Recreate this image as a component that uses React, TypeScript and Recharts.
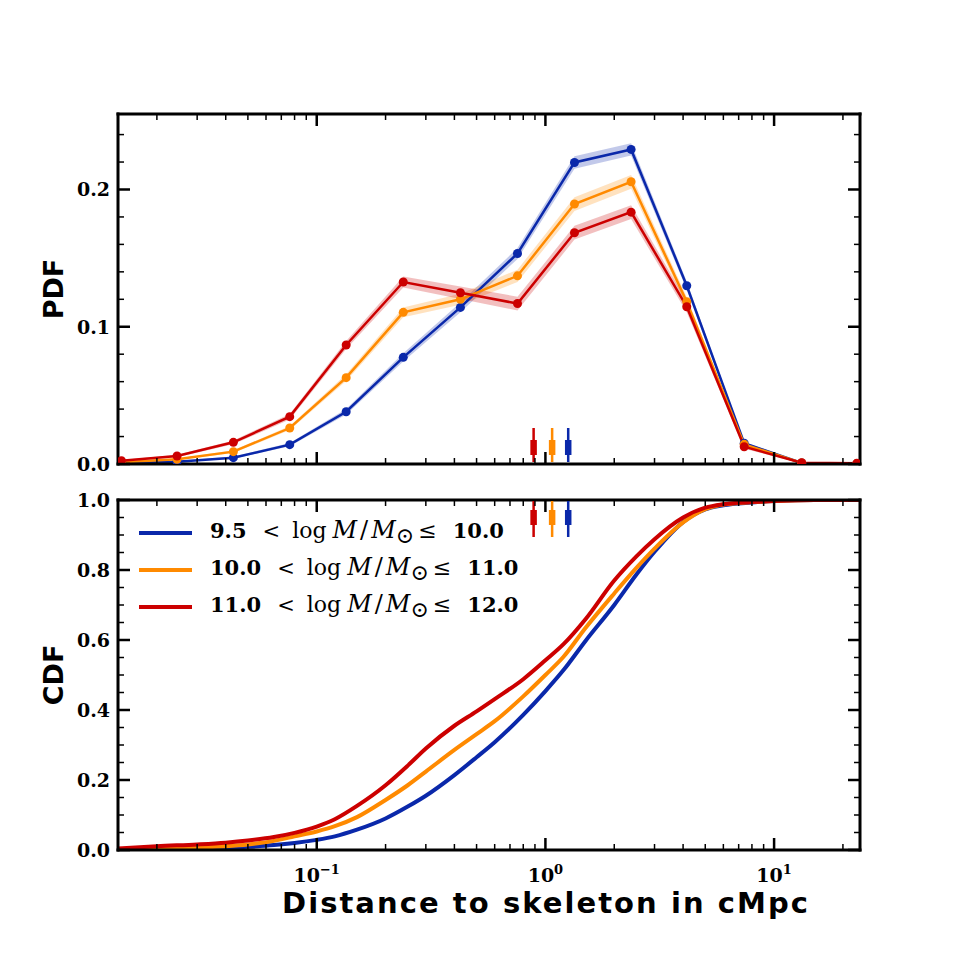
import React from 'react';
import { ComposedChart, Line, Area, XAxis, YAxis, Scatter } from 'recharts';

// ---------- data ----------
const SERIES_NAMES = ['9.5', '10.0', '11.0'];
const SERIES_UPPER = ['10.0', '11.0', '12.0'];

const PDF_X = [0.014, 0.0245, 0.0432, 0.0762, 0.1345, 0.239, 0.425, 0.755, 1.34, 2.37, 4.15, 7.4, 13.2, 23.0];
const PDF_BLUE = [0.0006, 0.0017, 0.0046, 0.0141, 0.0381, 0.0777, 0.1141, 0.1534, 0.2197, 0.2292, 0.1299, 0.0151, 0.0008, 0.0003];
const PDF_ORANGE = [0.0012, 0.0034, 0.009, 0.0262, 0.0629, 0.1105, 0.12, 0.1371, 0.1894, 0.2056, 0.1182, 0.0143, 0.0008, 0.0003];
const PDF_RED = [0.0024, 0.0058, 0.0158, 0.0345, 0.0867, 0.1326, 0.1248, 0.1169, 0.1685, 0.1835, 0.1146, 0.0126, 0.0009, 0.0005];
const ERR_BLUE = [0.0003, 0.0005, 0.0008, 0.0012, 0.002, 0.003, 0.0035, 0.004, 0.0045, 0.0045, 0.003, 0.001, 0.0003, 0.0002];
const ERR_ORANGE = [0.0004, 0.0006, 0.001, 0.0015, 0.0025, 0.0035, 0.004, 0.0045, 0.005, 0.005, 0.0035, 0.0012, 0.0003, 0.0002];
const ERR_RED = [0.0006, 0.0009, 0.0014, 0.002, 0.003, 0.004, 0.0045, 0.005, 0.005, 0.005, 0.004, 0.0015, 0.0004, 0.0002];

const CDF_X = [0.0135, 0.02, 0.03, 0.04, 0.05, 0.065, 0.08, 0.1, 0.12, 0.15, 0.2, 0.25, 0.3, 0.4, 0.5, 0.6, 0.8, 1.0, 1.2, 1.5, 2.0, 2.5, 3, 4, 5, 6, 8, 10, 15, 23.7];
const CDF_BLUE = [0.0005, 0.001, 0.003, 0.006, 0.009, 0.014, 0.02, 0.029, 0.039, 0.058, 0.09, 0.124, 0.155, 0.214, 0.265, 0.308, 0.386, 0.454, 0.514, 0.598, 0.7, 0.787, 0.852, 0.937, 0.973, 0.985, 0.993, 0.997, 1.0, 1.0];
const CDF_ORANGE = [0.001, 0.003, 0.007, 0.011, 0.016, 0.026, 0.039, 0.053, 0.068, 0.094, 0.143, 0.185, 0.224, 0.286, 0.331, 0.368, 0.439, 0.5, 0.552, 0.635, 0.733, 0.806, 0.861, 0.936, 0.974, 0.987, 0.994, 0.997, 1.0, 1.0];
const CDF_RED = [0.004, 0.011, 0.016, 0.021, 0.027, 0.037, 0.049, 0.067, 0.088, 0.126, 0.185, 0.241, 0.29, 0.355, 0.396, 0.431, 0.488, 0.542, 0.588, 0.66, 0.77, 0.839, 0.888, 0.95, 0.978, 0.988, 0.994, 0.997, 1.0, 1.0];

// medians (blue, orange, red)
const MEDIANS = [1.258, 1.07, 0.888];

const X_DOMAIN = [0.01352, 23.75];
const X_TICKS = [0.02, 0.03, 0.04, 0.05, 0.06, 0.07, 0.08, 0.09, 0.1, 0.2, 0.3, 0.4, 0.5, 0.6, 0.7, 0.8, 0.9, 1, 2, 3, 4, 5, 6, 7, 8, 9, 10, 20];
const X_MAJOR = [0.1, 1, 10];
const PDF_Y_TICKS = [0, 0.02, 0.04, 0.06, 0.08, 0.1, 0.12, 0.14, 0.16, 0.18, 0.2, 0.22, 0.24];
const PDF_Y_MAJOR = [0, 0.1, 0.2];
const CDF_Y_TICKS = [0, 0.05, 0.1, 0.15, 0.2, 0.25, 0.3, 0.35, 0.4, 0.45, 0.5, 0.55, 0.6, 0.65, 0.7, 0.75, 0.8, 0.85, 0.9, 0.95, 1.0];
const CDF_Y_MAJOR = [0, 0.2, 0.4, 0.6, 0.8, 1.0];

// ---------- style ----------
const COLORS = ['#0a28aa', '#ff8a00', '#cc0000'];
const SERIF = '"DejaVu Serif", serif';
const SANS = '"DejaVu Sans", sans-serif';

const pdfRows = PDF_X.map((x, i) => ({
  x,
  blue: PDF_BLUE[i],
  orange: PDF_ORANGE[i],
  red: PDF_RED[i],
  blueBand: [PDF_BLUE[i] - ERR_BLUE[i], PDF_BLUE[i] + ERR_BLUE[i]],
  orangeBand: [PDF_ORANGE[i] - ERR_ORANGE[i], PDF_ORANGE[i] + ERR_ORANGE[i]],
  redBand: [PDF_RED[i] - ERR_RED[i], PDF_RED[i] + ERR_RED[i]],
}));
const cdfRows = CDF_X.map((x, i) => ({ x, blue: CDF_BLUE[i], orange: CDF_ORANGE[i], red: CDF_RED[i] }));

const isMajor = (v: number, majors: number[]) =>
  majors.some((m) => Math.abs(m - v) < 1e-9 + 1e-6 * Math.abs(m));

const makeTick = (side: string, majors: number[], label: 'none' | 'x' | 'y') => (props: any) => {
  const { x, y, payload } = props;
  const v = Number(payload.value);
  const maj = isMajor(v, majors);
  const len = maj ? 12 : 6;
  const sw = maj ? 2.5 : 1.5;
  let x2 = x, y2 = y;
  if (side === 'left') x2 = x + len;
  if (side === 'right') x2 = x - len;
  if (side === 'top') y2 = y + len;
  if (side === 'bottom') y2 = y - len;
  let txt: any = null;
  if (maj && label === 'y') {
    txt = (
      <text x={x - 8} y={y} textAnchor="end" dominantBaseline="central" fontFamily={SERIF} fontWeight="bold" fontSize={19} fill="#000">
        {v.toFixed(1)}
      </text>
    );
  }
  if (maj && label === 'x') {
    const e = Math.round(Math.log10(v));
    txt = (
      <text x={x} y={y + 32} textAnchor="middle" fontFamily={SERIF} fontWeight="bold" fontSize={19} fill="#000">
        10<tspan dy={-8} fontSize={13}>{e < 0 ? '\u2212' + Math.abs(e) : String(e)}</tspan>
      </text>
    );
  }
  return (
    <g>
      <line x1={x} y1={y} x2={x2} y2={y2} stroke="#000" strokeWidth={sw} />
      {txt}
    </g>
  );
};

const axisLine = { stroke: '#000', strokeWidth: 3, strokeLinecap: 'square' as const };

const medianShape = (color: string, dir: number) => (props: any) => {
  const { cx, cy } = props;
  if (dir < 0) {
    return (
      <g>
        <rect x={cx - 1.25} y={cy - 36} width={2.5} height={34} fill={color} />
        <rect x={cx - 3.25} y={cy - 24} width={6.5} height={15} fill={color} />
      </g>
    );
  }
  return (
    <g>
      <rect x={cx - 1.25} y={cy + 1} width={2.5} height={36} fill={color} />
      <rect x={cx - 3.25} y={cy + 10} width={6.5} height={15} fill={color} />
    </g>
  );
};

const commonX = {
  type: 'number' as const,
  scale: 'log' as const,
  domain: X_DOMAIN,
  allowDataOverflow: true,
  ticks: X_TICKS,
  interval: 0 as const,
  tickSize: 0,
  tickMargin: 0,
  tickLine: false,
  axisLine,
  dataKey: 'x',
};

const LegendBlock = () => {
  const rows = [0, 1, 2];
  return (
    <g>
      {rows.map((i) => {
        const y = 533 + i * 37;
        return (
          <g key={i}>
            <line x1={139} x2={192} y1={y} y2={y} stroke={COLORS[i]} strokeWidth={4} />
            <text x={210} y={y + 5} fontFamily={SERIF} fontSize={21} fill="#000">
              <tspan fontWeight="bold">{SERIES_NAMES[i]}</tspan>
              <tspan dx={16}>{'<'}</tspan>
              <tspan dx={12} fontSize={22}>log</tspan>
              <tspan dx={6} fontSize={24} fontStyle="italic">M</tspan>
              <tspan dx={3} fontSize={24}>/</tspan>
              <tspan dx={3} fontSize={24} fontStyle="italic">M</tspan>
              <tspan fontSize={22} dy={5}>{'\u2299'}</tspan>
              <tspan dy={-5} dx={4} fontSize={22}>{'\u2264'}</tspan>
              <tspan dx={16} fontWeight="bold">{SERIES_UPPER[i]}</tspan>
            </text>
          </g>
        );
      })}
    </g>
  );
};

const bandKeys = ['blueBand', 'orangeBand', 'redBand'];
const lineKeys = ['blue', 'orange', 'red'];

export default function App() {
  return (
    <div style={{ position: 'absolute', left: 0, top: 0, width: 955, height: 955, background: '#fff' }}>
      <div style={{ position: 'absolute', left: 0, top: 0 }}>
        <ComposedChart width={955} height={955} data={pdfRows} margin={{ top: 104, right: 85, bottom: 481, left: 58 }}>
          <XAxis {...commonX} height={10} tick={makeTick('bottom', X_MAJOR, 'none')} />
          <XAxis {...commonX} xAxisId="top" orientation="top" height={10} tick={makeTick('top', X_MAJOR, 'none')} />
          <YAxis type="number" domain={[0, 0.255]} allowDataOverflow ticks={PDF_Y_TICKS} interval={0} tickSize={0} tickMargin={0} tickLine={false} axisLine={axisLine} width={60} tick={makeTick('left', PDF_Y_MAJOR, 'y')} />
          <YAxis yAxisId="right" orientation="right" type="number" domain={[0, 0.255]} allowDataOverflow ticks={PDF_Y_TICKS} interval={0} tickSize={0} tickMargin={0} tickLine={false} axisLine={axisLine} width={10} tick={makeTick('right', PDF_Y_MAJOR, 'none')} />
          {bandKeys.map((k, i) => (
            <Area key={k} type="linear" dataKey={k} stroke="none" fill={COLORS[i]} fillOpacity={0.25} isAnimationActive={false} activeDot={false} />
          ))}
          {lineKeys.map((k, i) => (
            <Line key={k} type="linear" dataKey={k} stroke={COLORS[i]} strokeWidth={2.5} dot={{ r: 4.5, fill: COLORS[i], stroke: 'none' }} activeDot={false} isAnimationActive={false} />
          ))}
          {MEDIANS.map((m, i) => (
            <Scatter key={'m' + i} data={[{ x: m, y: 0 }]} dataKey="y" isAnimationActive={false} shape={medianShape(COLORS[i], -1)} />
          ))}
          <text transform="translate(63,289) rotate(-90)" textAnchor="middle" fontFamily={SANS} fontWeight="bold" fontSize={27} fill="#000">PDF</text>
        </ComposedChart>
      </div>
      <div style={{ position: 'absolute', left: 0, top: 0 }}>
        <ComposedChart width={955} height={955} data={cdfRows} margin={{ top: 490, right: 85, bottom: 45, left: 58 }}>
          <XAxis {...commonX} height={60} tick={makeTick('bottom', X_MAJOR, 'x')} />
          <XAxis {...commonX} xAxisId="top" orientation="top" height={10} tick={makeTick('top', X_MAJOR, 'none')} />
          <YAxis type="number" domain={[0, 1]} allowDataOverflow ticks={CDF_Y_TICKS} interval={0} tickSize={0} tickMargin={0} tickLine={false} axisLine={axisLine} width={60} tick={makeTick('left', CDF_Y_MAJOR, 'y')} />
          <YAxis yAxisId="right" orientation="right" type="number" domain={[0, 1]} allowDataOverflow ticks={CDF_Y_TICKS} interval={0} tickSize={0} tickMargin={0} tickLine={false} axisLine={axisLine} width={10} tick={makeTick('right', CDF_Y_MAJOR, 'none')} />
          {lineKeys.map((k, i) => (
            <Line key={k} type="monotone" dataKey={k} stroke={COLORS[i]} strokeWidth={4} dot={false} activeDot={false} isAnimationActive={false} />
          ))}
          {MEDIANS.map((m, i) => (
            <Scatter key={'m' + i} data={[{ x: m, y: 1 }]} dataKey="y" isAnimationActive={false} shape={medianShape(COLORS[i], 1)} />
          ))}
          <LegendBlock />
          <text transform="translate(63,675) rotate(-90)" textAnchor="middle" fontFamily={SANS} fontWeight="bold" fontSize={27} fill="#000">CDF</text>
          <text x={545} y={913} textAnchor="middle" fontFamily={SANS} fontWeight="bold" fontSize={29} textLength={526} lengthAdjust="spacing" fill="#000">Distance to skeleton in cMpc</text>
        </ComposedChart>
      </div>
    </div>
  );
}
